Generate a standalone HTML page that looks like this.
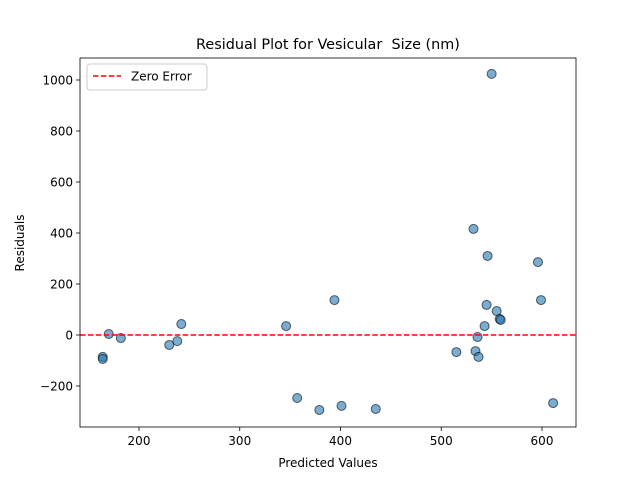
<!DOCTYPE html>
<html><head><meta charset="utf-8"><style>
body{margin:0;background:#fff;font-family:"Liberation Sans","DejaVu Sans",sans-serif}
text{font-family:"DejaVu Sans","Liberation Sans",sans-serif}
</style></head><body>
<svg id="chart" width="640" height="480">
<rect width="640" height="480" fill="#fff"/>
<text x="328" y="49" text-anchor="middle" font-size="14.4" style="white-space:pre">Residual Plot for Vesicular  Size (nm)</text>
<text x="328" y="467" text-anchor="middle" font-size="12">Predicted Values</text>
<text transform="translate(24,243) rotate(-90)" text-anchor="middle" font-size="12">Residuals</text>
</svg>
<script>
const xVals=[164,164,170,182,230,238,242,346,357,379,394,401,435,515,532,534,536,537,543,545,546,550,555,558,559,596,599,611];
const yVals=[-86,-94,4,-12,-39,-24,43,35,-247,-294,137,-278,-290,-67,416,-63,-8,-86,35,118,310,1024,94,63,59,286,137,-267];
const xTicks=[200,300,400,500,600];
const yTicks=[-200,0,200,400,600,800,1000];
const L=80,R=576,T=58,B=427;
const sx=v=>139+(v-200)*1.0075;
const sy=v=>335-v*0.255;
const svg=document.getElementById('chart');
const NS='http://www.w3.org/2000/svg';
function mk(t,a){const e=document.createElementNS(NS,t);for(const k in a)e.setAttribute(k,a[k]);svg.appendChild(e);return e;}
xTicks.forEach(v=>{
 const l=mk('line',{x1:sx(v),x2:sx(v),y1:B,y2:B+4,stroke:'#000','stroke-width':0.8});
 
 
 const t=mk('text',{x:sx(v),y:B+18,'text-anchor':'middle','font-size':12});
 t.textContent=v;
 
 
});
yTicks.forEach(v=>{
 const l=mk('line',{x1:L-4,x2:L,y1:sy(v),y2:sy(v),stroke:'#000','stroke-width':0.8});
 
 
 const t=mk('text',{x:L-7,y:sy(v)+4.5,'text-anchor':'end','font-size':12});
 t.textContent=v<0?'\u2212'+(-v):v;
 
 
});
xVals.forEach((x,i)=>{
 const c=mk('circle',{cx:sx(x),cy:sy(yVals[i]),r:4.5,fill:'rgba(31,119,180,0.6)',stroke:'rgba(0,0,0,0.6)','stroke-width':1});
 
 
});
const z=mk('line',{x1:L,x2:R,y1:sy(0),y2:sy(0),stroke:'#f00','stroke-width':1.5,'stroke-dasharray':'5.5,2.4'});


const f=mk('rect',{x:L,y:T,width:R-L,height:B-T,fill:'none',stroke:'#000','stroke-width':0.8});


const lg=mk('rect',{x:87,y:64,width:120,height:26,rx:3,fill:'#fff',stroke:'#ccc','stroke-width':1});


const ll=mk('line',{x1:93,x2:121,y1:76,y2:76,stroke:'#f00','stroke-width':1.5,'stroke-dasharray':'5.5,2.4'});


const lt=mk('text',{x:131,y:80.5,'font-size':12});
lt.textContent='Zero Error';


</script>
</body></html>
